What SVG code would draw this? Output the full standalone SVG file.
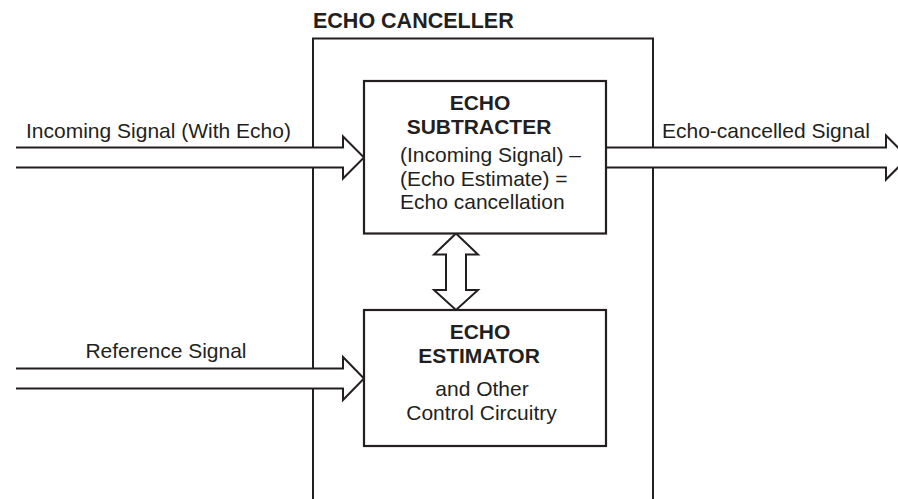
<svg xmlns="http://www.w3.org/2000/svg" width="898" height="499" viewBox="0 0 898 499">
<style>
.ln{fill:none;stroke:#231f20;stroke-width:2;stroke-linejoin:miter}
.box{fill:#fff;stroke:#231f20;stroke-width:2.2}
.arr{fill:#fff;stroke:#231f20;stroke-width:2;stroke-linejoin:miter}
.t{font-family:"Liberation Sans",Arial,Helvetica,sans-serif;font-size:21px;fill:#231f20}
.b{font-weight:bold}
.m{text-anchor:middle}
</style>
<rect width="898" height="499" fill="#fff"/>
<g id="echo-canceller">
<path class="ln" d="M313,499 V38.5 H653 V499"/>
<text class="t b" x="313" y="27.5" style="font-size:21.5px">ECHO CANCELLER</text>
</g>
<g id="connectors">
<path class="arr" d="M16,147.5 H343 V136.5 L364,157.5 L343,178.5 V167.5 H16"/>
<path class="arr" d="M606,147.5 H886 V135.5 L908,157.5 L886,179.5 V167.5 H606"/>
<path class="arr" d="M16,368.5 H343 V357 L364,378.5 L343,400 V388.5 H16"/>
<path class="arr" d="M456,233.5 L478,254.5 H466 V290 H478 L456,310 L434,290 H446 V254.5 H434 Z"/>
<text class="t" x="26" y="138">Incoming Signal (With Echo)</text>
<text class="t" x="662" y="137.5">Echo-cancelled Signal</text>
<text class="t m" x="166" y="357.5">Reference Signal</text>
</g>
<g id="echo-subtracter">
<rect class="box" x="364" y="81" width="242" height="152.5"/>
<text class="t b m" x="480" y="110">ECHO</text>
<text class="t b m" x="479" y="133.5">SUBTRACTER</text>
<text class="t" x="400" y="162">(Incoming Signal) –</text>
<text class="t" x="400" y="185.5">(Echo Estimate) =</text>
<text class="t" x="400" y="209">Echo cancellation</text>
</g>
<g id="echo-estimator">
<rect class="box" x="364" y="310" width="242" height="136"/>
<text class="t b m" x="480" y="339">ECHO</text>
<text class="t b m" x="479" y="363">ESTIMATOR</text>
<text class="t m" x="482" y="395.5">and Other</text>
<text class="t m" x="481.5" y="419.5">Control Circuitry</text>
</g>
</svg>
